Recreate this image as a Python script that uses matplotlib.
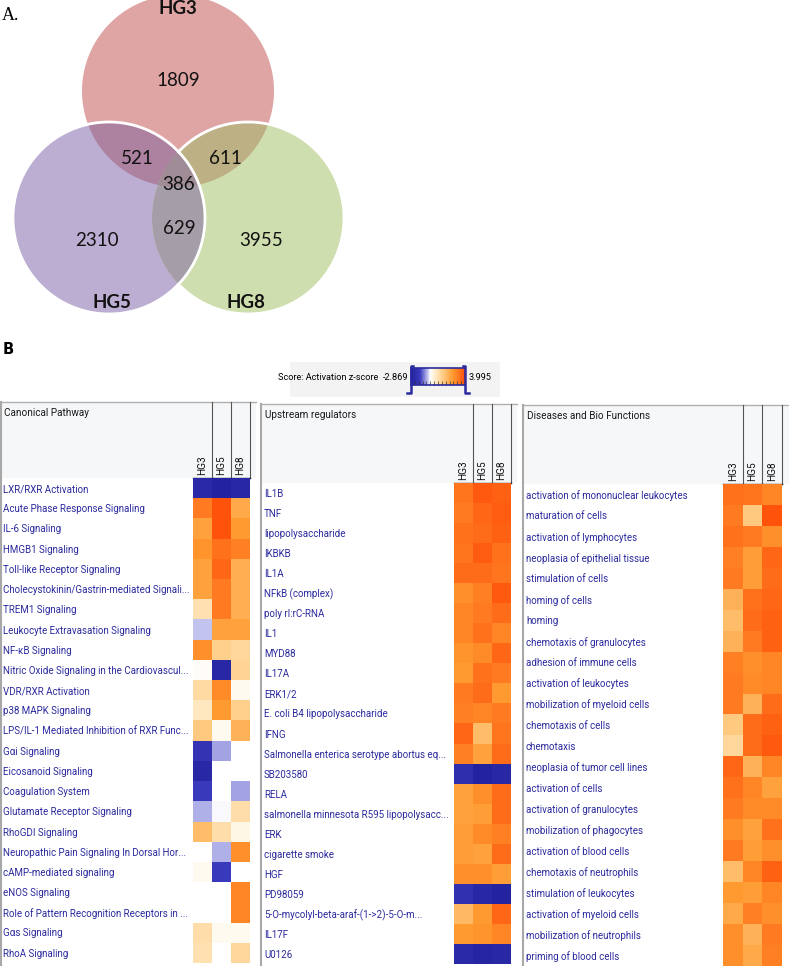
import numpy as np
import matplotlib
matplotlib.use('Agg')
import matplotlib.pyplot as plt
from matplotlib.colors import LinearSegmentedColormap, TwoSlopeNorm
from matplotlib.patches import Polygon, Rectangle

W, H = 789, 966

# ---- Venn data ----
venn_sets = ['HG3', 'HG5', 'HG8']
venn_counts = {'HG3': 1809, 'HG5': 2310, 'HG8': 3955,
               'HG3&HG5': 521, 'HG3&HG8': 611, 'HG5&HG8': 629, 'all': 386}

# ---- heatmap data (activation z-scores, nan = not reported) ----
groups = ['HG3', 'HG5', 'HG8']
zmin, zmax = -2.869, 3.995

canon_names = ['LXR/RXR Activation', 'Acute Phase Response Signaling', 'IL-6 Signaling',
               'HMGB1 Signaling', 'Toll-like Receptor Signaling',
               'Cholecystokinin/Gastrin-mediated Signali...', 'TREM1 Signaling',
               'Leukocyte Extravasation Signaling', 'NF-\u03baB Signaling',
               'Nitric Oxide Signaling in the Cardiovascul...', 'VDR/RXR Activation',
               'p38 MAPK Signaling', 'LPS/IL-1 Mediated Inhibition of RXR Func...',
               'G\u03b1i Signaling', 'Eicosanoid Signaling', 'Coagulation System',
               'Glutamate Receptor Signaling', 'RhoGDI Signaling',
               'Neuropathic Pain Signaling In Dorsal Hor...', 'cAMP-mediated signaling',
               'eNOS Signaling', 'Role of Pattern Recognition Receptors in ...',
               'G\u03b1s Signaling', 'RhoA Signaling']
nan = np.nan
canon_z = [[-2.5, -2.8, -2.6], [3.0, 3.8, 2.0], [2.2, 3.8, 2.4], [2.5, 3.2, 2.9],
           [2.2, 3.4, 1.9], [2.2, 3.0, 1.9], [0.5, 3.0, 1.9], [-0.8, 2.2, 2.2],
           [2.6, 1.0, 0.8], [-0.4, -2.6, 0.9], [0.7, 2.7, -0.3], [0.3, 2.4, 1.0],
           [1.2, -0.3, 1.8], [-2.1, -1.0, nan], [-2.6, nan, nan], [-1.8, nan, -1.0],
           [-0.9, -0.5, 0.6], [1.5, 0.6, -0.2], [nan, -0.9, 2.6], [-0.3, -1.8, nan],
           [nan, nan, 2.8], [nan, nan, 2.8], [0.6, -0.3, -0.3], [0.5, nan, 0.8]]

upstream_names = ['IL1B', 'TNF', 'lipopolysaccharide', 'IKBKB', 'IL1A', 'NFkB (complex)',
                  'poly rI:rC-RNA', 'IL1', 'MYD88', 'IL17A', 'ERK1/2',
                  'E. coli B4 lipopolysaccharide', 'IFNG',
                  'Salmonella enterica serotype abortus eq...', 'SB203580', 'RELA',
                  'salmonella minnesota R595 lipopolysacc...', 'ERK', 'cigarette smoke',
                  'HGF', 'PD98059', '5-O-mycolyl-beta-araf-(1->2)-5-O-m...', 'IL17F', 'U0126']
upstream_z = [[3.1, 3.7, 3.5], [3.0, 3.4, 3.6], [3.2, 3.3, 3.5], [3.1, 3.6, 3.2],
              [3.3, 3.3, 3.1], [2.6, 2.9, 3.7], [2.8, 3.0, 3.3], [2.8, 3.2, 2.8],
              [2.5, 2.7, 3.4], [2.4, 3.2, 3.0], [3.0, 3.3, 2.4], [2.9, 2.8, 3.0],
              [3.4, 1.5, 3.1], [2.9, 2.2, 3.3], [-2.3, -2.8, -2.6], [2.2, 2.6, 3.3],
              [2.2, 2.3, 3.3], [2.3, 2.7, 2.9], [2.3, 2.2, 3.3], [2.6, 2.6, 2.3],
              [-2.2, -2.6, -2.8], [1.6, 2.4, 3.4], [2.4, 2.5, 2.8], [-2.5, -2.7, -2.6]]

disease_names = ['activation of mononuclear leukocytes', 'maturation of cells',
                 'activation of lymphocytes', 'neoplasia of epithelial tissue',
                 'stimulation of cells', 'homing of cells', 'homing',
                 'chemotaxis of granulocytes', 'adhesion of immune cells',
                 'activation of leukocytes', 'mobilization of myeloid cells',
                 'chemotaxis of cells', 'chemotaxis', 'neoplasia of tumor cell lines',
                 'activation of cells', 'activation of granulocytes',
                 'mobilization of phagocytes', 'activation of blood cells',
                 'chemotaxis of neutrophils', 'stimulation of leukocytes',
                 'activation of myeloid cells', 'mobilization of neutrophils',
                 'priming of blood cells']
disease_z = [[3.2, 3.1, 2.8], [3.0, 1.2, 3.8], [3.2, 3.0, 2.6], [2.9, 2.3, 3.4],
             [3.0, 2.3, 3.3], [1.8, 3.2, 3.4], [1.5, 3.3, 3.5], [1.8, 3.0, 3.5],
             [2.9, 2.6, 2.8], [3.0, 2.7, 2.8], [3.0, 1.8, 3.3], [1.2, 3.3, 3.5],
             [0.8, 3.3, 3.7], [3.4, 1.8, 2.8], [3.2, 2.8, 2.2], [3.0, 2.7, 2.7],
             [2.6, 2.2, 3.2], [3.0, 2.3, 2.6], [1.5, 2.8, 3.5], [2.4, 2.3, 2.8],
             [2.0, 2.9, 2.6], [2.6, 1.8, 3.0], [2.6, 2.0, 2.9]]

label_fam = ['Roboto', 'DejaVu Sans']
navy = '#2a2a9e'

cmap = LinearSegmentedColormap.from_list('ipa', [(0.0, '#22229e'), (0.2, '#3c3cbe'),
                                                 (0.35, '#b8b8ec'), (0.418, '#ffffff'),
                                                 (0.5, '#fff2d6'), (0.65, '#ffca80'),
                                                 (0.8, '#ff9a30'), (1.0, '#ff4a08')])
cmap.set_bad('white')
norm = TwoSlopeNorm(vmin=zmin, vcenter=0, vmax=zmax)

fig = plt.figure(figsize=(W / 100, H / 100), dpi=100)
canvas = fig.add_axes([0, 0, 1, 1])
canvas.set_xlim(0, W)
canvas.set_ylim(H, 0)
canvas.axis('off')


def px_axes(x0, y0, x1, y1):
    return fig.add_axes([x0 / W, 1 - y1 / H, (x1 - x0) / W, (y1 - y0) / H])


# ---------------- A. Venn ----------------
def circle_pts(cx, cy, r, t0=0, t1=2 * np.pi, n=400):
    t = np.linspace(t0, t1, n, endpoint=(t1 - t0 < 2 * np.pi))
    return np.column_stack([cx + r * np.cos(t), cy + r * np.sin(t)])


def clip(subject, clipper):
    # Sutherland-Hodgman, convex clipper
    out = list(subject)
    m = len(clipper)
    for i in range(m):
        a, b = clipper[i], clipper[(i + 1) % m]
        inp, out = out, []
        if not inp:
            break

        def inside(p):
            return (b[0] - a[0]) * (p[1] - a[1]) - (b[1] - a[1]) * (p[0] - a[0]) >= 0

        def inter(p, q):
            d1 = p - q
            d2 = a - b
            n1 = (a[0] * b[1] - a[1] * b[0])
            n2 = (p[0] * q[1] - p[1] * q[0])
            den = d1[0] * d2[1] - d1[1] * d2[0]
            return np.array([(n2 * d2[0] - n1 * d1[0]) / den, (n2 * d2[1] - n1 * d1[1]) / den])

        s = inp[-1]
        for e in inp:
            if inside(e):
                if not inside(s):
                    out.append(inter(s, e))
                out.append(e)
            elif inside(s):
                out.append(inter(s, e))
            s = e
    return np.array(out)


r = 96
x3, y3 = 178, 91
x5, y5 = 109, 218
x8, y8 = 248, 218
c3 = circle_pts(x3, y3, r)
c5 = circle_pts(x5, y5, r)
c8 = circle_pts(x8, y8, r)
canvas.add_patch(Polygon(c3, closed=True, fc='#dfa5a5', ec='none'))
canvas.add_patch(Polygon(c5, closed=True, fc='#bcaed2', ec='none'))
canvas.add_patch(Polygon(c8, closed=True, fc='#cfdeae', ec='none'))
canvas.add_patch(Polygon(clip(c5, c3), closed=True, fc='#ad82a0', ec='none'))
canvas.add_patch(Polygon(clip(c8, c3), closed=True, fc='#bcb084', ec='none'))
canvas.add_patch(Polygon(clip(c8, c5), closed=True, fc='#a59da8', ec='none'))
canvas.add_patch(Polygon(clip(clip(c8, c5), c3), closed=True, fc='#a08c96', ec='none'))
# white rims: HG5 full, HG8 only where it lies outside HG5
canvas.add_patch(Polygon(c5, closed=True, fc='none', ec='white', lw=2))
half = np.arccos((x8 - x5) / 2 / r)
arc8 = circle_pts(x8, y8, r, -(np.pi - half), np.pi - half)
canvas.plot(arc8[:, 0], arc8[:, 1], color='white', lw=2)

vfont = dict(family='Lato', fontsize=13.5, ha='center', va='center', color='#111111')
canvas.text(178, 81, venn_counts['HG3'], **vfont)
canvas.text(97, 241, venn_counts['HG5'], **vfont)
canvas.text(261, 241, venn_counts['HG8'], **vfont)
canvas.text(137, 158, venn_counts['HG3&HG5'], **vfont)
canvas.text(225, 158, venn_counts['HG3&HG8'], **vfont)
canvas.text(179, 229, venn_counts['HG5&HG8'], **vfont)
canvas.text(179, 185, venn_counts['all'], **vfont)
bfont = dict(family='Lato', fontsize=13.5, fontweight='bold', ha='center', va='center', color='#111111')
canvas.text(178, 8, venn_sets[0], **bfont)
canvas.text(112, 303, venn_sets[1], **bfont)
canvas.text(246, 303, venn_sets[2], **bfont)
canvas.text(2, 15, 'A.', family='Liberation Serif', fontsize=13, ha='left', va='center')

# ---------------- B. heatmaps ----------------
canvas.text(3, 350, 'B', family='DejaVu Sans', fontsize=10.5, fontweight='bold', ha='left', va='center')

# colour scale box
canvas.add_patch(Rectangle((290, 362), 210, 35, fc='#f3f3f3', ec='none'))
canvas.text(278, 378, 'Score: Activation z-score', family=label_fam, fontsize=6.6,
            ha='left', va='center')
canvas.text(408, 378, '%.3f' % zmin, family=label_fam, fontsize=6.6, ha='right', va='center')
canvas.text(469, 378, '%.3f' % zmax, family=label_fam, fontsize=6.6, ha='left', va='center')
cax = px_axes(411, 368, 465, 385)
cax.imshow(np.linspace(zmin, zmax, 200)[None, :], cmap=cmap, norm=norm, aspect='auto',
           extent=[zmin, zmax, 0, 1])
cax.set_xticks(np.linspace(zmin, zmax, 15))
cax.tick_params(axis='x', direction='in', length=3, width=0.5, labelbottom=False, color='#333333')
cax.set_yticks([])
for s in cax.spines.values():
    s.set_color(navy)
    s.set_linewidth(1.2)
canvas.plot([413, 411, 411, 407], [366, 366, 393, 393], color=navy, lw=1.8)
canvas.plot([463, 465, 465, 469], [366, 366, 393, 393], color=navy, lw=1.8)

panels = [
    dict(title='Canonical Pathway', names=canon_names, z=canon_z,
         box=(0, 402, 256), cells=(193, 478, 250, 20.2)),
    dict(title='Upstream regulators', names=upstream_names, z=upstream_z,
         box=(261, 404, 517), cells=(454, 483, 511, 20.04)),
    dict(title='Diseases and Bio Functions', names=disease_names, z=disease_z,
         box=(523, 405, 789), cells=(723, 484, 782, 20.95)),
]

for p in panels:
    bx0, by0, bx1 = p['box']
    cx0, cy0, cx1, rh = p['cells']
    n = len(p['names'])
    cy1 = cy0 + n * rh
    # header background + frame
    canvas.add_patch(Rectangle((bx0, by0), bx1 - bx0, cy0 - by0, fc='#f6f7f9', ec='none'))
    canvas.plot([bx0, bx1], [by0, by0], color='#b0b0b0', lw=1)
    canvas.plot([bx0 + 0.5, bx0 + 0.5], [by0, H], color='#a8a8a8', lw=1.5)
    canvas.text(bx0 + 4, by0 + 11, p['title'], family=label_fam, fontsize=7.2,
                ha='left', va='center', color='#1a1a1a')
    colw = (cx1 - cx0) / 3
    for k in range(1, 4):
        xk = cx0 + k * colw
        canvas.plot([xk, xk], [by0, cy0], color='#555555', lw=0.8)
    canvas.plot([cx0, cx1], [cy0 - 0.5, cy0 - 0.5], color='#222222', lw=1)

    ax = px_axes(cx0, cy0, cx1, cy1)
    ax.imshow(np.array(p['z'], dtype=float), cmap=cmap, norm=norm, aspect='auto',
              interpolation='nearest')
    ax.set_yticks(range(n))
    ax.set_yticklabels(p['names'], family=label_fam, fontsize=7, color=navy, ha='left')
    ax.tick_params(axis='y', length=0, pad=(cx0 - bx0 - 3) * 0.72)
    ax.xaxis.tick_top()
    ax.set_xticks(range(3))
    ax.set_xticklabels(groups, rotation=90, family=label_fam, fontsize=7.2, color='#111111')
    ax.tick_params(axis='x', length=0, pad=2)
    for s in ax.spines.values():
        s.set_visible(False)

fig.savefig('out.png', dpi=100)
